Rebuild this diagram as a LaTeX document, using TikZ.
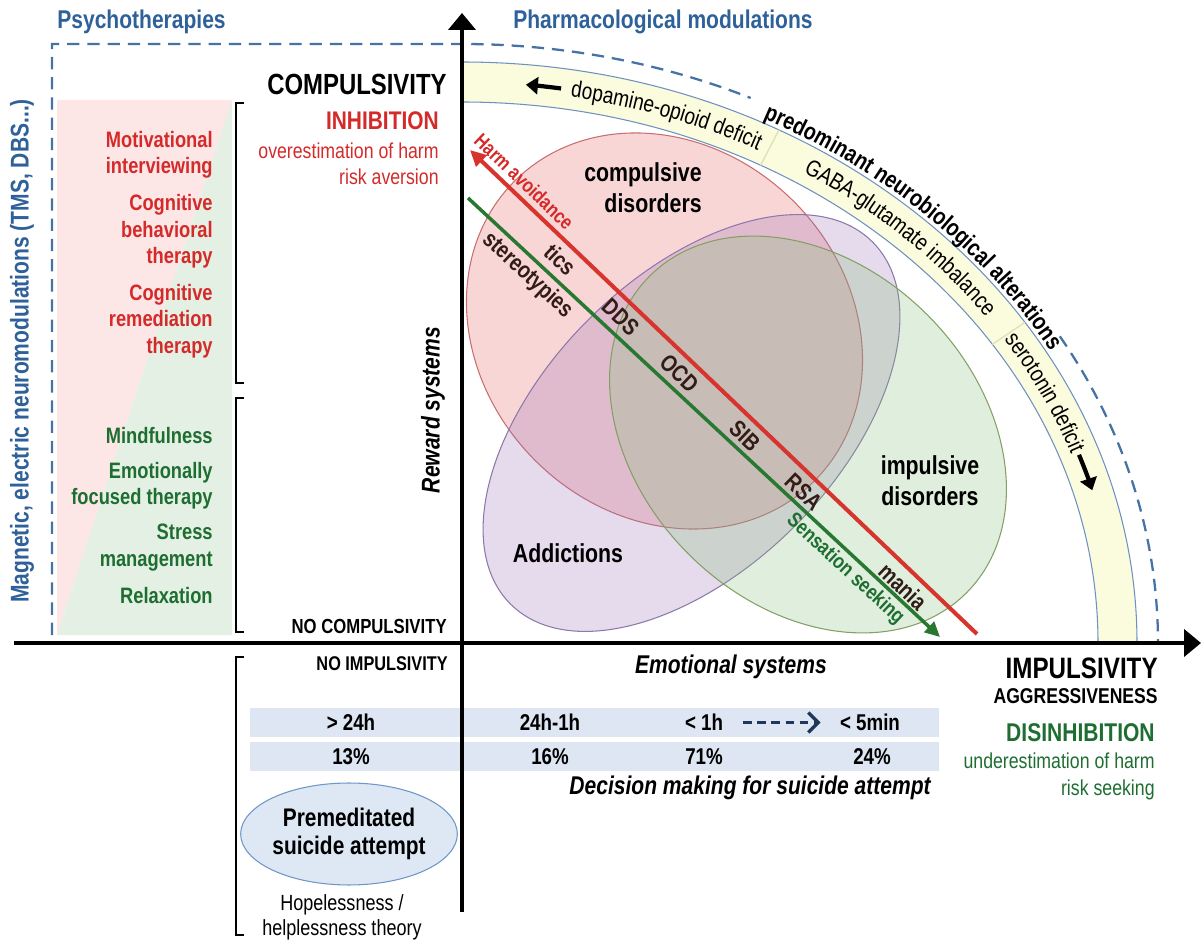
\documentclass[tikz,border=0pt]{standalone}
\usepackage{fontspec}
\setmainfont{Liberation Sans}[FakeStretch=0.82]
\usetikzlibrary{arrows.meta,decorations.text,shapes.geometric}

\definecolor{bluetxt}{RGB}{46,96,153}
\definecolor{redtxt}{RGB}{212,42,42}
\definecolor{greentxt}{RGB}{30,110,50}
\definecolor{dashblue}{RGB}{70,115,165}
\definecolor{bandfill}{RGB}{251,251,222}
\definecolor{bandline}{RGB}{110,145,195}
\definecolor{banddiv}{RGB}{225,225,185}
\definecolor{pinkbg}{RGB}{252,230,230}
\definecolor{greenbg}{RGB}{228,240,228}
\definecolor{rowfill}{RGB}{221,230,242}
\definecolor{ovalfill}{RGB}{222,232,244}
\definecolor{ovalline}{RGB}{110,150,200}
\definecolor{labdark}{RGB}{50,28,22}
\definecolor{compfill}{RGB}{230,90,90}
\definecolor{compline}{RGB}{200,110,110}
\definecolor{addfill}{RGB}{150,110,180}
\definecolor{addline}{RGB}{140,120,170}
\definecolor{impfill}{RGB}{130,190,120}
\definecolor{impline}{RGB}{130,160,100}
\definecolor{harmred}{RGB}{214,52,44}
\definecolor{seekgreen}{RGB}{40,120,50}
\definecolor{navyarrow}{RGB}{30,55,90}

\newcommand{\fsz}[2]{\fontsize{#1}{#2}\selectfont}

\begin{document}
\begin{tikzpicture}[x=0.02cm, y=0.02cm,
    axis/.style={line width=2.8pt, -{Triangle[length=0.34cm, width=0.54cm]}},
    brk/.style={line width=1.6pt},
    outline/.style={draw=dashblue, line width=1.3pt, dash pattern=on 7pt off 4.5pt},
    bandedge/.style={draw=bandline, line width=0.6pt},
    bandarr/.style={line width=2.4pt, -{Triangle[length=0.24cm, width=0.34cm]}},
    header/.style={font=\bfseries\fsz{14.6}{17}, text=bluetxt, inner sep=0pt},
    therapy/.style={font=\bfseries\fsz{12.7}{15.1}, align=right, anchor=east, inner sep=0pt},
    axlabel/.style={inner sep=0pt, anchor=east, align=right},
    system/.style={font=\bfseries\itshape\fsz{14.6}{17}, inner sep=0pt},
    disorder/.style={font=\bfseries\fsz{14.8}{17.6}, inner sep=0pt},
    onpath/.style={sloped, font=\bfseries\fsz{13.4}{15}, text=labdark, inner sep=0pt},
    harm/.style={draw=harmred, line width=2.3pt, {Triangle[length=0.32cm, width=0.3cm]}-},
    seek/.style={draw=seekgreen, line width=2pt, -{Triangle[length=0.3cm, width=0.28cm]}},
    cell/.style={font=\bfseries\fsz{13}{15}, inner sep=0pt},
    dasharr/.style={draw=navyarrow, line width=2pt, dash pattern=on 5pt off 3pt,
        -{Straight Barb[length=0.2cm, width=0.4cm]}},
    bandtext/.style={decorate, decoration={text along path, text align=center}}
]
\useasboundingbox (0,0) rectangle (1201,-942);
\coordinate (O) at (462,-643);

% psychotherapy panel
\fill[pinkbg] (57,-100) -- (232,-100) -- (57,-635) -- cycle;
\fill[greenbg] (232,-100) -- (232,-635) -- (57,-635) -- cycle;
\draw[brk] (244,-103) -- (236,-103) -- (236,-383) -- (244,-383);
\draw[brk] (244,-398) -- (236,-398) -- (236,-632) -- (244,-632);
\draw[brk] (244,-657) -- (236,-657) -- (236,-935) -- (244,-935);

% neurobiological band
\fill[bandfill] ([shift={(0:675 and 581)}]O) arc[start angle=0, end angle=90, x radius=675, y radius=581]
    -- ([shift={(90:636 and 541)}]O) arc[start angle=90, end angle=0, x radius=636, y radius=541] -- cycle;
\draw[bandedge] ([shift={(0:675 and 581)}]O) arc[start angle=0, end angle=90, x radius=675, y radius=581];
\draw[bandedge] ([shift={(0:636 and 541)}]O) arc[start angle=0, end angle=90, x radius=636, y radius=541];
\draw[banddiv, line width=0.8pt] ([shift={(62:636 and 541)}]O) -- ([shift={(62:675 and 581)}]O);
\draw[banddiv, line width=0.8pt] ([shift={(33.5:636 and 541)}]O) -- ([shift={(33.5:675 and 581)}]O);
\path[bandtext, decoration={text={|\fsz{13.2}{15}|dopamine-opioid deficit}}]
    ([shift={(86:648 and 554)}]O) arc[start angle=86, end angle=57, x radius=648, y radius=554];
\path[bandtext, decoration={text={|\fsz{13.2}{15}|GABA-glutamate imbalance}}]
    ([shift={(62:648 and 554)}]O) arc[start angle=62, end angle=32, x radius=648, y radius=554];
\path[bandtext, decoration={text={|\fsz{13.2}{15}|serotonin deficit}}]
    ([shift={(36.5:648 and 554)}]O) arc[start angle=36.5, end angle=16.5, x radius=648, y radius=554];
\path[bandtext, decoration={text={|\bfseries\fsz{13.6}{15}|predominant neurobiological alterations}}]
    ([shift={(70:679 and 585)}]O) arc[start angle=70, end angle=23, x radius=679, y radius=585];
\draw[bandarr] ([shift={(81.3:655 and 561)}]O) arc[start angle=81.3, end angle=84.4, x radius=655, y radius=561];
\draw[bandarr] ([shift={(19.6:655 and 561)}]O) arc[start angle=19.6, end angle=15.8, x radius=655, y radius=561];

% modulation outline
\draw[outline] (52,-635) -- (52,-44) -- (462,-44)
    arc[start angle=90, end angle=65.5, x radius=696, y radius=599];
\draw[outline] ([shift={(30.8:696 and 599)}]O) arc[start angle=30.8, end angle=0, x radius=696, y radius=599];

% disorder ellipses
\filldraw[fill=compfill, fill opacity=0.25, draw=compline, line width=0.6pt,
    rotate around={-45:(664.5,-331)}] (664.5,-331) ellipse[x radius=212, y radius=183];
\filldraw[fill=addfill, fill opacity=0.25, draw=addline, line width=0.6pt,
    rotate around={45:(691.5,-423)}] (691.5,-423) ellipse[x radius=256, y radius=146];
\filldraw[fill=impfill, fill opacity=0.25, draw=impline, line width=0.6pt,
    rotate around={-45:(808,-434.5)}] (808,-434.5) ellipse[x radius=224, y radius=169];

\node[disorder, align=right, anchor=east] (compdis) at (702,-188) {compulsive\\disorders};
\node[disorder, align=center] (impdis) at (930,-480.5) {impulsive\\disorders};
\node[disorder] (addict) at (568,-553) {Addictions};

% harm avoidance / sensation seeking
\coordinate (harmtip) at (470,-150);
\coordinate (harmend) at (977,-634);
\coordinate (seekstart) at (468,-198);
\coordinate (seektip) at (940,-637);
\coordinate (midstart) at (458.3,-162.3);
\coordinate (midend) at (965.3,-646.3);
\draw[harm] (harmtip) -- (harmend)
    node[pos=0.087, sloped, above=3pt, inner sep=0pt, font=\bfseries\fsz{11.5}{13}, text=redtxt] (harmlbl) {Harm avoidance};
\draw[seek] (seekstart) -- (seektip)
    node[pos=0.149, onpath, below=2pt] (stereo) {stereotypies}
    node[pos=0.821, sloped, below=2pt, inner sep=0pt, font=\bfseries\fsz{12}{14}, text=greentxt] (seeklbl) {Sensation seeking};
\path (midstart) -- (midend)
    node[pos=0.201, onpath] (tics) {tics}
    node[pos=0.32, onpath] (dds) {DDS}
    node[pos=0.436, onpath] (ocd) {OCD}
    node[pos=0.565, onpath] (sib) {SIB}
    node[pos=0.681, onpath] (rsa) {RSA}
    node[pos=0.877, onpath] (mania) {mania};

% suicide attempt table
\fill[rowfill] (250,-708) rectangle (939,-737);
\fill[rowfill] (250,-742) rectangle (939,-771);
\node[cell] (tlong) at (351,-722.5) {> 24h};
\node[cell] (tmid) at (550,-722.5) {24h-1h};
\node[cell] (tshort) at (704,-722.5) {< 1h};
\node[cell] (tmin) at (870,-722.5) {< 5min};
\node[cell] (plong) at (351,-756.5) {13\%};
\node[cell] (pmid) at (550,-756.5) {16\%};
\node[cell] (pshort) at (704,-756.5) {71\%};
\node[cell] (pmin) at (872,-756.5) {24\%};
\draw[dasharr, shorten <=0.4cm, shorten >=0.38cm] (tshort) -- (tmin);
\node[system, anchor=east] (decision) at (931,-788) {Decision making for suicide attempt};
\node[ellipse, draw=ovalline, fill=ovalfill, line width=0.6pt, minimum width=4.12cm, minimum height=2.04cm,
    inner sep=0pt, align=center, font=\bfseries\fsz{14.5}{16}] (premed) at (349,-834) {Premeditated\\suicide attempt};
\node[font=\fsz{12.5}{14.2}, align=center, inner sep=0pt] (hope) at (342,-917.5) {Hopelessness /\\helplessness theory};

% axes
\coordinate (vbot) at (462,-912);
\coordinate (vtop) at (462,-13);
\coordinate (hleft) at (14,-643);
\coordinate (hright) at (1201,-643);
\draw[axis] (vbot) -- (vtop);
\draw[axis] (hleft) -- (hright);

% headers
\node[header, anchor=west] (psy) at (57,-22) {Psychotherapies};
\node[header, anchor=west] (pharma) at (513,-22) {Pharmacological modulations};
\node[header, rotate=90] (neuro) at (22,-351) {Magnetic, electric neuromodulations (TMS, DBS...)};

% therapies
\node[therapy, text=redtxt] (motiv) at (213,-155) {Motivational\\interviewing};
\node[therapy, text=redtxt] (cbt) at (213,-231.5) {Cognitive\\behavioral\\therapy};
\node[therapy, text=redtxt] (crt) at (213,-321) {Cognitive\\remediation\\therapy};
\node[therapy, text=greentxt] (mindful) at (213,-436) {Mindfulness};
\node[therapy, text=greentxt] (eft) at (213,-485.5) {Emotionally\\focused therapy};
\node[therapy, text=greentxt] (stress) at (213,-547.5) {Stress\\management};
\node[therapy, text=greentxt] (relax) at (213,-596) {Relaxation};

% compulsivity axis
\node[axlabel, font=\bfseries\fsz{16.6}{19}] (comp) at (447,-84) {COMPULSIVITY};
\node[axlabel, font=\bfseries\fsz{14.5}{17}, text=redtxt] (inhib) at (439,-121) {INHIBITION};
\node[axlabel, font=\fsz{12.3}{14.8}, text=redtxt] (over) at (439,-164) {overestimation of harm\\risk aversion};
\node[axlabel, font=\bfseries\fsz{11.6}{14}] (nocomp) at (447,-626) {NO COMPULSIVITY};
\node[system, rotate=90] (reward) at (433,-410) {Reward systems};

% impulsivity axis
\node[axlabel, font=\bfseries\fsz{11.3}{14}] (noimp) at (448,-664) {NO IMPULSIVITY};
\node[system] (emo) at (731,-667) {Emotional systems};
\node[axlabel, font=\bfseries\fsz{16.8}{19}] (imp) at (1158,-668) {IMPULSIVITY};
\node[axlabel, font=\bfseries\fsz{12.2}{14}] (aggr) at (1158,-696) {AGGRESSIVENESS};
\node[axlabel, font=\bfseries\fsz{14.6}{17}, text=greentxt] (disinhib) at (1155,-733) {DISINHIBITION};
\node[axlabel, font=\fsz{12.3}{15.4}, text=greentxt] (under) at (1155,-776.5) {underestimation of harm\\risk seeking};
\end{tikzpicture}
\end{document}
